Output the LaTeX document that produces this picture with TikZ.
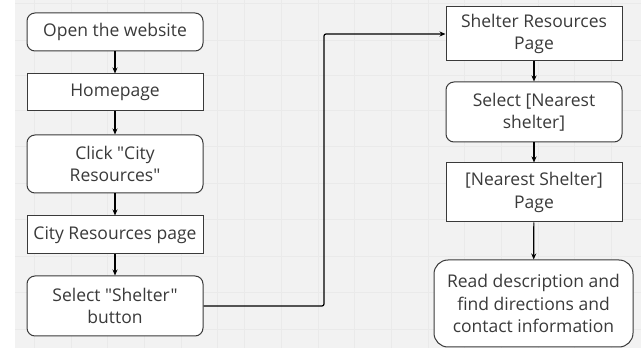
\documentclass[tikz,border=0pt]{standalone}
\usepackage{fontspec}
\setmainfont{Open Sans}[Ligatures=TeXOff]
\usetikzlibrary{arrows.meta}
\definecolor{bgc}{HTML}{F2F2F2}
\definecolor{gridc}{HTML}{EAEAEA}
\definecolor{txt}{HTML}{3A3A3A}
\definecolor{edge}{HTML}{3A3A3A}
\tikzset{
  px/.style={x=1pt,y=-1pt},
  base/.style={draw=edge,line width=1pt,fill=white,text=txt,align=center,font=\fontsize{17.5}{22.5}\selectfont,inner sep=0pt},
  roundbox/.style={base,rounded corners=8pt},
  rectbox/.style={base},
  conn/.style={draw=black,line width=1.2pt,-{Stealth[length=6pt,width=5pt]}},
}
\begin{document}
\begin{tikzpicture}[px]
\useasboundingbox (0,0) rectangle (641,350);
\fill[white] (0,0) rectangle (641,350);
\fill[bgc] (15,0) rectangle (641,348);
\foreach \x in {34,71,107,144,181,217,244,281,318,354,391,428,464,501,538,574,611} {\draw[gridc,line width=0.5pt] (\x,0) -- (\x,348);}
\foreach \y in {3,40,75,110,146,183,219,256,292,329} {\draw[gridc,line width=0.5pt] (15,\y) -- (641,\y);}
% left column
\node[roundbox,minimum width=176pt,minimum height=38pt] (a) at (115,32) {Open the website};
\node[rectbox,minimum width=176pt,minimum height=37pt] (b) at (115,92.5) {Homepage};
\node[roundbox,minimum width=176pt,minimum height=58pt] (c) at (115,164) {Click "City\\Resources"};
\node[rectbox,minimum width=176pt,minimum height=38pt] (d) at (115,235) {City Resources page};
\node[roundbox,minimum width=176pt,minimum height=60pt] (e) at (115,306) {Select "Shelter"\\button};
% right column
\node[rectbox,minimum width=176pt,minimum height=54pt] (f) at (534,34) {Shelter Resources\\Page};
\node[roundbox,minimum width=176pt,minimum height=60pt] (g) at (534,112) {Select [Nearest\\shelter]};
\node[rectbox,minimum width=176pt,minimum height=59pt] (h) at (534,192.5) {[Nearest Shelter]\\Page};
\node[roundbox,minimum width=199pt,minimum height=87pt,rounded corners=14pt] (i) at (533.5,303.5) {Read description and\\find directions and\\contact information};
% connectors
\draw[conn] (a) -- (b);
\draw[conn] (b) -- (c);
\draw[conn] (c) -- (d);
\draw[conn] (d) -- (e);
\draw[conn] (f) -- (g);
\draw[conn] (g) -- (h);
\draw[conn] (h) -- (i);
\coordinate (m1) at (324,306);
\coordinate (m2) at (324,34);
\draw[conn,rounded corners=2pt] (e.east) -- (m1) -- (m2) -- (f.west);
\end{tikzpicture}
\end{document}
